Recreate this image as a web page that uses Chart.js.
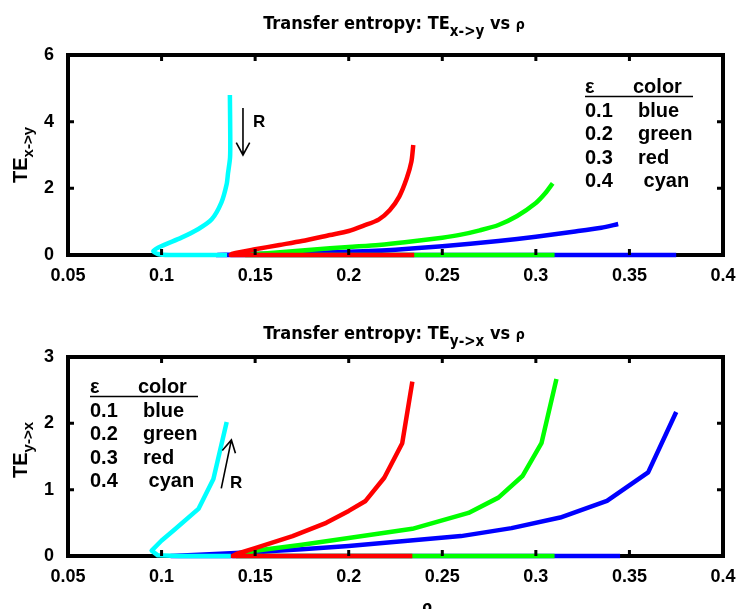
<!DOCTYPE html>
<html>
<head>
<meta charset="utf-8">
<script src="https://cdn.jsdelivr.net/npm/chart.js@4"></script>
<style>
  body { margin: 0; background: #fff; width: 738px; height: 609px; overflow: hidden; position: relative; }
  canvas { position: absolute; left: 0; }
</style>
</head>
<body>
<canvas id="top" width="738" height="300" style="top:0"></canvas>
<canvas id="bottom" width="738" height="309" style="top:300px"></canvas>
<script>
const rhoTicks = [0.05, 0.1, 0.15, 0.2, 0.25, 0.3, 0.35, 0.4];
const xyTicks = [0, 2, 4, 6];
const yxTicks = [0, 1, 2, 3];

const epsilons = ['0.1', '0.2', '0.3', '0.4'];
const colorNames = ['blue', 'green', 'red', ' cyan'];
const lineColors = ['#0000ff', '#00ff00', '#ff0000', '#00ffff'];

// [rho, TE] in drawing order: run along the axis first, then the rising branch
const xyBlue = [[0.375,0],[0.13,0],[0.15,0.03],[0.175,0.06],[0.2,0.1],[0.225,0.16],[0.25,0.26],[0.28,0.42],[0.3,0.55],[0.32,0.7],[0.335,0.82],[0.344,0.93]];
const xyGreen = [[0.31,0],[0.145,0],[0.16,0.07],[0.18,0.16],[0.2,0.24],[0.216,0.3],[0.23,0.38],[0.25,0.52],[0.26,0.61],[0.27,0.74],[0.28,0.9],[0.29,1.17],[0.3,1.56],[0.305,1.85],[0.309,2.15]];
const xyRed = [[0.235,0],[0.137,0],[0.138,0.04],[0.15,0.17],[0.163,0.3],[0.175,0.42],[0.19,0.6],[0.2,0.72],[0.208,0.88],[0.216,1.06],[0.222,1.35],[0.227,1.75],[0.231,2.3],[0.2335,2.8],[0.2345,3.3]];
const xyCyan = [[0.1365,4.8],[0.1367,3.6],[0.1366,2.93],[0.1355,2.45],[0.1348,2.13],[0.132,1.58],[0.1268,1.07],[0.1197,0.78],[0.1106,0.52],[0.1,0.27],[0.0956,0.12],[0.098,0.03],[0.104,0],[0.135,0]];

const yxBlue = [[0.345,0],[0.105,0],[0.12,0.02],[0.137,0.04],[0.15,0.06],[0.175,0.1],[0.2,0.15],[0.227,0.22],[0.26,0.3],[0.287,0.42],[0.313,0.58],[0.338,0.83],[0.36,1.26],[0.375,2.17]];
const yxGreen = [[0.31,0],[0.14,0],[0.141,0.02],[0.15,0.08],[0.175,0.17],[0.2,0.27],[0.234,0.41],[0.264,0.65],[0.28,0.88],[0.293,1.21],[0.303,1.7],[0.311,2.67]];
const yxRed = [[0.234,0],[0.138,0],[0.14,0.03],[0.15,0.12],[0.17,0.3],[0.188,0.5],[0.2,0.68],[0.209,0.83],[0.219,1.18],[0.2286,1.7],[0.234,2.63]];
const yxCyan = [[0.1348,2.02],[0.1277,1.16],[0.1197,0.71],[0.107,0.4],[0.0999,0.23],[0.0947,0.08],[0.098,0.01],[0.109,0],[0.137,0]];

// R arrows: [rho, TE] tail and head
const xyArrow = [[0.1435, 4.41], [0.1435, 3.0]];
const yxArrow = [[0.1319, 1.02], [0.1373, 1.75]];

const arial = "'Liberation Sans', Arial, sans-serif";
const tickFont = { family: arial, weight: 'bold', size: 18 };
const titleFam = "'DejaVu Sans Condensed', 'DejaVu Sans', sans-serif";

function textRun(ctx, parts, x, y, align) {
  let w = 0;
  parts.forEach(p => { ctx.font = p.font; p.w = ctx.measureText(p.t).width; w += p.w; });
  let cx = align === 'center' ? x - w / 2 : x;
  parts.forEach(p => { ctx.font = p.font; ctx.fillText(p.t, cx, y + (p.dy || 0)); cx += p.w; });
}

const frame = {
  id: 'frame',
  beforeDatasetsDraw(chart) {
    const a = chart.chartArea, ctx = chart.ctx;
    ctx.save();
    ctx.strokeStyle = '#000';
    ctx.lineWidth = 4;
    ctx.strokeRect(a.left, a.top, a.right - a.left, a.bottom - a.top);
    ctx.restore();
  },
  afterDatasetsDraw(chart, args, o) {
    const a = chart.chartArea, ctx = chart.ctx;
    const xs = chart.scales.x, ys = chart.scales.y;
    ctx.save();
    ctx.strokeStyle = '#000';
    ctx.fillStyle = '#000';
    ctx.lineWidth = 3;
    ctx.beginPath();
    rhoTicks.slice(1, -1).forEach(v => {
      const px = xs.getPixelForValue(v);
      ctx.moveTo(px, a.bottom); ctx.lineTo(px, a.bottom - 6);
      ctx.moveTo(px, a.top); ctx.lineTo(px, a.top + 6);
    });
    o.yTicks.slice(1, -1).forEach(v => {
      const py = ys.getPixelForValue(v);
      ctx.moveTo(a.left, py); ctx.lineTo(a.left + 6, py);
      ctx.moveTo(a.right, py); ctx.lineTo(a.right - 6, py);
    });
    ctx.stroke();

    // title
    ctx.textBaseline = 'alphabetic';
    textRun(ctx, [
      { t: 'Transfer entropy: TE', font: `bold 18px ${titleFam}` },
      { t: o.sub, font: `bold 15px ${titleFam}`, dy: 7 },
      { t: ' vs ', font: `bold 18px ${titleFam}` },
      { t: 'ρ', font: `bold 14px ${titleFam}` }
    ], 394, o.titleY, 'center');

    // y label
    ctx.save();
    ctx.translate(27, o.ylabelY);
    ctx.rotate(-Math.PI / 2);
    textRun(ctx, [
      { t: 'TE', font: `bold 20px ${arial}` },
      { t: o.sub, font: `bold 15px ${arial}`, dy: 6 }
    ], 0, 0, 'center');
    ctx.restore();

    // epsilon / colour table
    const L = o.legend;
    ctx.font = `bold 20px ${arial}`;
    ctx.fillText('ε', L.x, L.y);
    ctx.fillText('color', L.x + 48, L.y);
    ctx.lineWidth = 1.5;
    ctx.beginPath();
    ctx.moveTo(L.x, L.y + 3.5); ctx.lineTo(L.x + 108, L.y + 3.5);
    ctx.stroke();
    epsilons.forEach((e, i) => {
      const by = L.y + 24 + i * 23.4;
      ctx.fillText(e, L.x, by);
      ctx.fillText(colorNames[i], L.x + 53, by);
    });

    // R arrow
    const [t, h] = o.arrow;
    const x0 = xs.getPixelForValue(t[0]), y0 = ys.getPixelForValue(t[1]);
    const x1 = xs.getPixelForValue(h[0]), y1 = ys.getPixelForValue(h[1]);
    const ang = Math.atan2(y1 - y0, x1 - x0);
    ctx.lineWidth = 1.6;
    ctx.beginPath();
    ctx.moveTo(x0, y0); ctx.lineTo(x1, y1);
    ctx.moveTo(x1 - 14 * Math.cos(ang - 0.5), y1 - 14 * Math.sin(ang - 0.5));
    ctx.lineTo(x1, y1);
    ctx.lineTo(x1 - 14 * Math.cos(ang + 0.5), y1 - 14 * Math.sin(ang + 0.5));
    ctx.stroke();
    ctx.font = `bold 17px ${arial}`;
    ctx.fillText('R', xs.getPixelForValue(o.rPos[0]), ys.getPixelForValue(o.rPos[1]));

    if (o.xlabel) {
      ctx.font = `bold 16px ${titleFam}`;
      ctx.textAlign = 'center';
      ctx.fillText('ρ', 427, chart.height + 3);
    }
    ctx.restore();
  }
};

function series(smooth) {
  return (pts, i) => ({
    data: pts.map(p => ({ x: p[0], y: p[1] })),
    borderColor: lineColors[i],
    borderWidth: 4.5,
    borderCapStyle: 'butt',
    borderJoinStyle: 'round',
    showLine: true,
    pointRadius: 0,
    tension: smooth,
    clip: false,
    order: 4 - i
  });
}

function makeChart(id, sets, yMax, yTicks, areaTop, areaBottom, smooth, opts) {
  const cv = document.getElementById(id);
  return new Chart(cv, {
    type: 'scatter',
    data: { datasets: sets.map(series(smooth)) },
    options: {
      responsive: false,
      animation: false,
      layout: { padding: { top: areaTop, right: 15, left: 0, bottom: 0 } },
      plugins: { legend: { display: false }, tooltip: { enabled: false }, frame: Object.assign({ yTicks: yTicks }, opts) },
      scales: {
        x: {
          type: 'linear', min: 0.05, max: 0.4,
          grid: { display: false }, border: { display: false },
          afterBuildTicks: s => { s.ticks = rhoTicks.map(v => ({ value: v })); },
          afterFit: s => { s.height = cv.height - areaBottom; },
          ticks: { color: '#000', font: tickFont, padding: 2, maxRotation: 0, callback: v => String(+v.toFixed(2)) }
        },
        y: {
          type: 'linear', min: 0, max: yMax,
          grid: { display: false }, border: { display: false },
          afterBuildTicks: s => { s.ticks = yTicks.map(v => ({ value: v })); },
          afterFit: s => { s.width = 68; },
          ticks: { color: '#000', font: tickFont, padding: 6 }
        }
      }
    },
    plugins: [frame]
  });
}

makeChart('top', [xyBlue, xyGreen, xyRed, xyCyan], 6, xyTicks, 55, 255, 0.25, {
  sub: 'x->y', titleY: 29, ylabelY: 155,
  legend: { x: 585, y: 93 },
  arrow: xyArrow, rPos: [0.1489, 3.84]
});
makeChart('bottom', [yxBlue, yxGreen, yxRed, yxCyan], 3, yxTicks, 57, 256, 0, {
  sub: 'y->x', titleY: 39, ylabelY: 150,
  legend: { x: 90, y: 93 },
  arrow: yxArrow, rPos: [0.1366, 1.03], xlabel: true
});
</script>
</body>
</html>
